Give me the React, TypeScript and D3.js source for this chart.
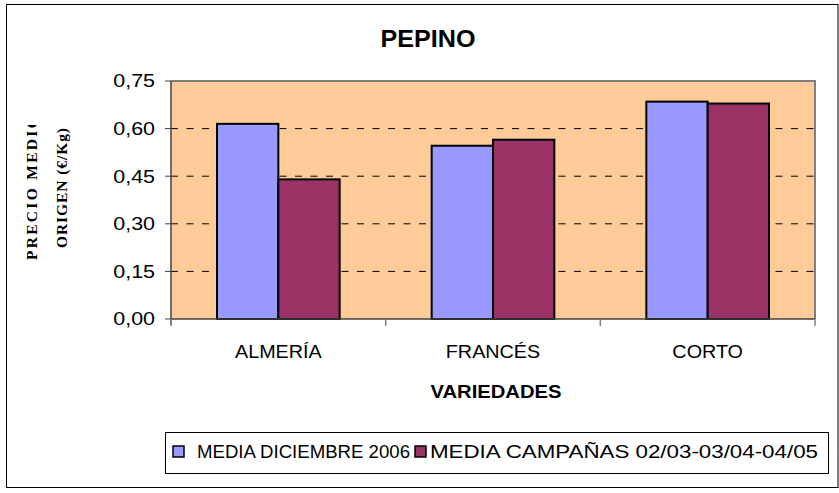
import React from "react";
import * as d3 from "d3";

const categories = ["ALMERÍA", "FRANCÉS", "CORTO"];
const seriesNames = ["MEDIA  DICIEMBRE 2006", "MEDIA  CAMPAÑAS 02/03-03/04-04/05"];
const seriesDic2006 = [0.615, 0.546, 0.685];
const seriesCampanas = [0.44, 0.565, 0.679];
const yTicks = [0, 0.15, 0.3, 0.45, 0.6, 0.75];
const seriesColors = ["#9999FF", "#993366"];

const W = 839;
const H = 493;
const plot = { left: 171, right: 815, top: 81, bottom: 319 };
const FONT = "'Liberation Sans', Arial, sans-serif";
const SERIF = "'Liberation Serif', 'Times New Roman', serif";

export default function App() {
  const x0 = d3.scaleBand<string>().domain(categories).range([plot.left, plot.right]).padding(0);
  const x1 = d3
    .scaleBand<number>()
    .domain([0, 1])
    .range([0, x0.bandwidth()])
    .paddingInner(0)
    .paddingOuter(0.75);
  const y = d3.scaleLinear().domain([0, 0.75]).range([plot.bottom, plot.top]);
  const fmt = (v: number) => d3.format(".2f")(v).replace(".", ",");
  const values = [seriesDic2006, seriesCampanas];
  const catTicks = [plot.left, ...categories.map((c) => (x0(c) as number) + x0.bandwidth())];

  return (
    <svg width={W} height={H} style={{ position: "absolute", left: 0, top: 0, background: "#fff" }}>
      <defs>
        <clipPath id="ytclip">
          <rect x={0} y={125} width={120} height={300} />
        </clipPath>
      </defs>
      <rect x={0} y={0} width={W} height={H} fill="#fff" />
      <rect x={6.5} y={4.5} width={831.5} height={483} fill="none" stroke="#000" strokeWidth={1} />

      {/* title */}
      <text x={428} y={47} textAnchor="middle" fontFamily={FONT} fontWeight="bold" fontSize={24} textLength={95} lengthAdjust="spacingAndGlyphs">
        PEPINO
      </text>

      {/* plot area */}
      <rect x={plot.left} y={plot.top} width={plot.right - plot.left} height={plot.bottom - plot.top} fill="#FFCC99" />
      {yTicks
        .filter((t) => t > 0 && t < 0.75)
        .map((t) => (
          <line key={t} x1={plot.left} x2={plot.right} y1={y(t)} y2={y(t)} stroke="#000" strokeWidth={1} strokeDasharray="7,8.5" />
        ))}
      <path
        d={`M${plot.left},${plot.top}H${plot.right}V${plot.bottom}`}
        fill="none"
        stroke="#808080"
        strokeWidth={2}
      />

      {/* bars */}
      {categories.map((c, ci) =>
        values.map((vals, si) => (
          <rect
            key={c + si}
            x={(x0(c) as number) + (x1(si) as number)}
            y={y(vals[ci])}
            width={x1.bandwidth()}
            height={y(0) - y(vals[ci])}
            fill={seriesColors[si]}
            stroke="#000"
            strokeWidth={2}
          />
        ))
      )}

      {/* axes */}
      <line x1={plot.left} x2={plot.left} y1={plot.top} y2={plot.bottom + 6} stroke="#404040" strokeWidth={1.5} />
      <line x1={plot.left} x2={plot.right} y1={plot.bottom} y2={plot.bottom} stroke="#404040" strokeWidth={1.5} />
      {yTicks.map((t) => (
        <g key={t}>
          <line x1={plot.left - 6} x2={plot.left} y1={y(t)} y2={y(t)} stroke="#404040" strokeWidth={1} />
          <text
            transform={`translate(155,${y(t)}) scale(1.16,1)`}
            textAnchor="end"
            dy="0.35em"
            fontFamily={FONT}
            fontSize={18.5}
          >
            {fmt(t)}
          </text>
        </g>
      ))}
      {catTicks.map((tx, i) => (
        <line key={i} x1={tx} x2={tx} y1={plot.bottom} y2={plot.bottom + 7} stroke="#808080" strokeWidth={1.5} />
      ))}
      {categories.map((c) => (
        <text
          key={c}
          transform={`translate(${(x0(c) as number) + x0.bandwidth() / 2},358) scale(1.04,1)`}
          textAnchor="middle"
          fontFamily={FONT}
          fontSize={19}
        >
          {c}
        </text>
      ))}

      {/* x title */}
      <text x={496} y={398} textAnchor="middle" fontFamily={FONT} fontWeight="bold" fontSize={19} textLength={131} lengthAdjust="spacingAndGlyphs">
        VARIEDADES
      </text>

      {/* y title */}
      <g clipPath="url(#ytclip)">
        <text
          transform="translate(37,260) rotate(-90)"
          textAnchor="start"
          fontFamily={SERIF}
          fontWeight="bold"
          fontSize={15.5}
          textLength={176}
          lengthAdjust="spacing"
        >
          PRECIO MEDIO EN
        </text>
      </g>
      <text
        transform="translate(67,188) rotate(-90)"
        textAnchor="middle"
        fontFamily={SERIF}
        fontWeight="bold"
        fontSize={15.5}
        textLength={120}
        lengthAdjust="spacing"
      >
        ORIGEN (€/Kg)
      </text>

      {/* legend */}
      <rect x={165.5} y={432.5} width={663} height={41} fill="#fff" stroke="#000" strokeWidth={1} />
      <rect x={173} y={446} width={11} height={11} fill={seriesColors[0]} stroke="#000" strokeWidth={1.5} />
      <text x={197} y={458} fontFamily={FONT} fontSize={18.5} textLength={213} lengthAdjust="spacingAndGlyphs">
        {seriesNames[0]}
      </text>
      <rect x={415} y={446} width={11} height={11} fill={seriesColors[1]} stroke="#000" strokeWidth={1.5} />
      <text x={430} y={458} fontFamily={FONT} fontSize={18.5} textLength={388} lengthAdjust="spacingAndGlyphs">
        {seriesNames[1]}
      </text>
    </svg>
  );
}
